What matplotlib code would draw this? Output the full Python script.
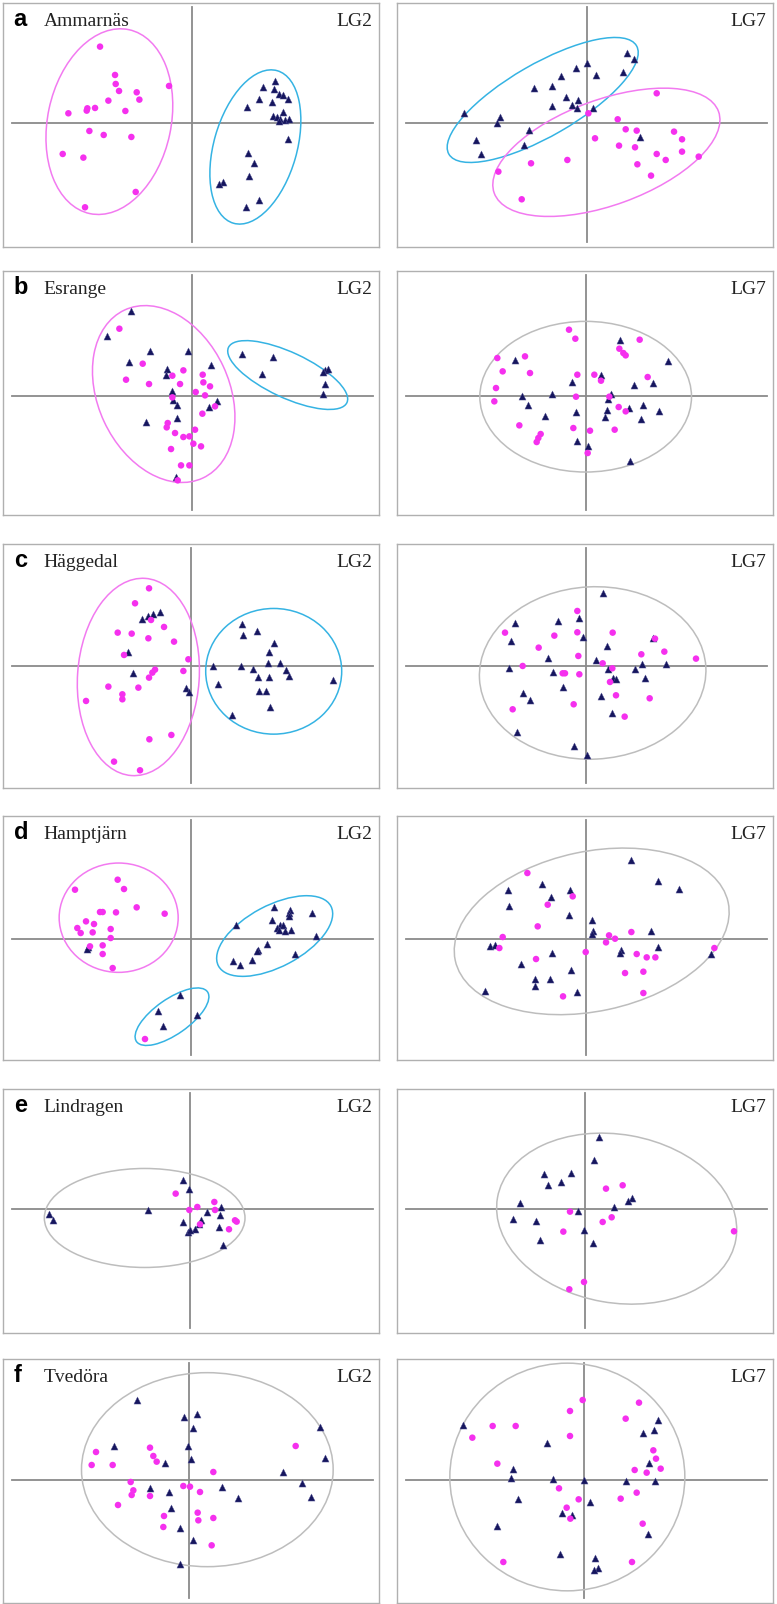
import numpy as np
import matplotlib.pyplot as plt
from matplotlib.patches import Ellipse

PINK = '#f530ee'
NAVY = '#16165e'
RING = {'pink': '#f27af0', 'blue': '#35b3e3', 'grey': '#bdbdbd'}

sites = ['Ammarnäs', 'Esrange', 'Häggedal', 'Hamptjärn', 'Lindragen', 'Tvedöra']
letters = ['a', 'b', 'c', 'd', 'e', 'f']
groups = ['LG2', 'LG7']

# PCA scores: circ = magenta circles, tri = navy triangles
a_lg2_circ = [[-27.5, 23.0], [-23.0, 14.5], [-22.8, 11.8], [-21.8, 9.7], [-6.8, 11.2], [-16.5, 9.3],
              [-15.7, 7.1], [-25.0, 6.8], [-29.0, 4.6], [-31.3, 4.5], [-31.5, 3.8], [-37.0, 3.0],
              [-19.9, 3.7], [-30.7, -2.3], [-26.4, -3.5], [-18.1, -4.1], [-38.7, -9.2], [-32.5, -10.3],
              [-16.8, -20.6], [-32.0, -25.2]]
a_lg2_tri = [[25.1, 12.6], [21.3, 10.8], [24.7, 10.4], [26.3, 8.8], [27.3, 8.5], [28.9, 7.3],
             [20.1, 7.4], [24.1, 6.4], [16.5, 5.0], [27.3, 3.5], [24.5, 2.3], [25.5, 2.0],
             [26.5, 1.2], [28.0, 1.0], [29.3, 1.2], [26.1, 0.8], [28.9, -4.8], [16.8, -8.8],
             [18.7, -11.8], [17.1, -15.8], [9.5, -17.7], [8.2, -18.3], [20.1, -23.0], [16.4, -25.2]]
a_lg7_circ = [[21.0, 9.0], [0.5, 3.0], [9.3, 1.2], [11.7, -1.8], [15.0, -2.2], [26.2, -2.5],
              [28.6, -4.8], [2.5, -4.5], [9.7, -6.7], [14.5, -7.2], [28.6, -8.5], [21.0, -9.2],
              [33.6, -10.0], [23.7, -11.0], [-5.8, -11.0], [-16.7, -12.0], [15.2, -12.3],
              [-26.5, -14.5], [19.3, -15.7], [-19.5, -22.8]]
a_lg7_tri = [[12.0, 21.0], [14.3, 19.3], [0.0, 18.0], [-3.2, 16.5], [2.8, 14.5], [11.0, 15.3],
             [-7.7, 14.2], [-10.3, 11.3], [-15.7, 10.5], [-6.2, 7.8], [-2.5, 7.0], [-10.5, 5.3],
             [-4.5, 5.5], [-2.8, 4.7], [2.0, 4.7], [-36.8, 3.0], [-26.0, 1.8], [-26.8, 0.2],
             [-17.2, -2.0], [16.0, -4.0], [-33.2, -5.0], [-18.8, -6.5], [-31.8, -9.3]]

b_lg2_circ = [[-21.7, 20.1], [-14.7, 9.6], [-19.7, 4.8], [-12.8, 3.5], [-2.5, 7.6], [-5.8, 6.0],
              [-3.5, 3.5], [3.3, 6.3], [3.5, 4.0], [5.5, 2.8], [1.2, 1.1], [4.0, 0.1], [-5.8, -0.5],
              [7.0, -3.2], [3.2, -5.4], [-7.2, -8.2], [-7.5, -9.5], [-5.0, -11.2], [1.0, -10.2],
              [-2.5, -12.4], [-0.7, -12.2], [0.5, -14.4], [2.8, -15.2], [-6.2, -16.0],
              [-3.2, -20.9], [-0.7, -20.9], [-4.2, -25.4]]
b_lg2_tri = [[-18.2, 25.5], [-25.3, 17.8], [-12.5, 13.3], [-1.0, 13.3], [-18.8, 10.0], [5.8, 9.3],
             [-7.3, 8.1], [-7.8, 6.1], [-6.0, 1.5], [-5.5, -1.2], [-4.5, -2.7], [7.7, -1.5],
             [5.2, -3.5], [-4.3, -6.7], [-13.8, -8.0], [-4.7, -24.4], [15.1, 12.5], [24.5, 11.5],
             [21.0, 6.5], [40.0, 7.8], [41.0, 8.0], [39.5, 7.1], [40.0, 3.5], [39.5, 0.5]]
b_lg7_circ = [[-5.1, 19.8], [-3.2, 17.1], [16.1, 16.8], [10.0, 14.1], [11.2, 12.8], [11.9, 12.1],
              [-26.6, 11.3], [-18.3, 11.8], [-25.0, 7.3], [-16.8, 6.8], [-2.6, 6.3], [2.5, 6.3],
              [4.5, 4.5], [18.5, 5.6], [-27.0, 2.3], [-3.0, -0.3], [7.0, -0.3], [-27.5, -1.7],
              [9.8, -3.4], [11.9, -4.7], [-20.0, -8.9], [-3.8, -9.7], [1.2, -10.5], [8.6, -10.2],
              [-13.6, -11.5], [-14.3, -12.7], [-14.8, -13.9], [0.5, -17.2]]
b_lg7_tri = [[10.2, 16.8], [-21.2, 10.6], [24.6, 10.5], [4.5, 6.3], [-4.1, 4.1], [14.4, 3.1],
             [20.2, 3.7], [-19.1, -0.2], [-10.2, 0.5], [7.4, 0.5], [6.7, -1.0], [-17.3, -2.7],
             [12.8, -3.7], [17.0, -2.7], [6.2, -4.2], [-3.0, -4.9], [-12.2, -6.0], [21.9, -4.7],
             [5.7, -6.5], [16.5, -6.9], [-2.6, -13.7], [0.5, -15.2], [13.3, -19.5]]

c_lg2_circ = [[-12.5, 23.4], [-16.7, 18.9], [-11.9, 13.9], [-8.0, 11.8], [-21.9, 10.1], [-17.7, 9.8],
              [-12.7, 8.4], [-5.0, 7.4], [-20.0, 3.4], [-0.7, 2.1], [-10.7, -1.0], [-11.5, -1.9],
              [-12.5, -3.4], [-2.2, -1.4], [-24.7, -6.1], [-15.7, -6.4], [-20.5, -8.4],
              [-20.5, -9.9], [-31.4, -10.4], [-12.4, -21.9], [-5.8, -20.6], [-23.0, -28.6],
              [-15.2, -31.2]]
c_lg2_tri = [[-9.2, 16.4], [-11.2, 15.8], [-12.7, 15.1], [-14.5, 14.1], [15.5, 12.6], [15.8, 9.4],
             [19.9, 10.6], [25.0, 6.9], [23.6, 4.4], [-18.7, 4.4], [15.0, 0.0], [6.8, 0.0],
             [23.1, 0.9], [26.8, 0.9], [18.6, -0.7], [28.5, -1.0], [29.4, -2.9], [-17.2, -2.1],
             [20.3, -3.2], [23.4, -3.2], [8.3, -5.4], [42.6, -4.2], [-1.5, -6.4], [-0.5, -7.6],
             [20.6, -7.4], [22.6, -7.4], [23.8, -12.1], [12.5, -14.5]]
c_lg7_circ = [[-2.6, 16.6], [-24.3, 10.1], [-9.5, 9.2], [-2.6, 10.2], [8.0, 10.1], [20.7, 8.3],
              [-14.2, 5.6], [23.5, 4.4], [16.6, 3.6], [33.0, 2.3], [-2.3, 3.1], [-19.0, 0.1],
              [5.0, 0.9], [7.9, -0.6], [-7.0, -2.1], [-6.3, -2.1], [-2.0, -2.4], [7.2, -4.7],
              [9.0, -8.7], [19.1, -9.6], [-3.7, -11.4], [-22.0, -12.9], [11.6, -15.1]]
c_lg7_tri = [[5.2, 22.1], [-21.4, 13.1], [-8.5, 13.6], [-2.2, 14.4], [-22.6, 7.6], [-0.8, 8.9],
             [6.4, 6.2], [20.2, 8.4], [-11.4, 2.4], [3.0, 1.9], [16.9, 0.6], [24.0, 0.8],
             [-23.0, -0.6], [-10.0, -1.6], [6.7, -0.9], [14.7, -0.9], [8.2, -3.4], [8.9, -3.9],
             [17.7, -3.4], [-6.8, -6.1], [-19.0, -7.9], [-16.8, -10.1], [4.4, -8.9], [7.7, -13.9],
             [-20.6, -19.6], [-3.5, -23.9], [0.3, -26.5]]

d_lg2_circ = [[-22.0, 17.7], [-20.1, 14.9], [-34.8, 14.7], [-16.3, 9.4], [-7.9, 7.5], [-27.3, 8.0],
              [-26.5, 8.0], [-22.5, 7.9], [-31.5, 5.2], [-29.1, 4.4], [-34.1, 3.2], [-33.1, 1.7],
              [-29.5, 1.9], [-24.1, 2.9], [-24.1, 0.2], [-26.5, -2.0], [-30.3, -2.3],
              [-26.5, -4.6], [-23.5, -8.8], [-13.8, -30.1]]
d_lg2_tri = [[24.9, 9.5], [29.8, 8.7], [29.5, 7.7], [36.3, 7.7], [29.3, 6.7], [13.5, 4.2],
             [24.2, 5.5], [26.7, 4.2], [27.5, 4.0], [25.9, 3.2], [26.5, 2.7], [28.2, 2.2],
             [30.0, 2.5], [37.5, 0.9], [22.7, -1.6], [20.2, -3.3], [19.9, -3.8], [31.3, -4.5],
             [18.4, -6.5], [12.7, -6.8], [14.7, -8.0], [-30.8, -2.5], [-31.1, -3.1],
             [-3.3, -17.0], [-9.8, -21.7], [1.9, -23.0], [-8.5, -26.1]]
d_lg7_circ = [[-17.5, 19.7], [-3.9, 12.7], [-11.4, 10.2], [-14.4, 3.7], [-24.9, 0.5], [-25.9, -2.8],
              [7.0, 1.0], [8.8, 0.0], [6.1, -1.1], [13.7, 2.0], [0.0, -4.0], [15.3, -4.6],
              [18.3, -5.6], [20.9, -5.6], [38.6, -2.8], [-14.9, -6.1], [11.8, -10.3],
              [17.3, -9.9], [17.3, -16.3], [-6.8, -17.3]]
d_lg7_tri = [[13.5, 23.5], [21.6, 17.4], [28.0, 15.0], [-23.3, 14.5], [-13.2, 16.5], [-4.7, 14.5],
             [-10.3, 12.4], [-23.1, 9.9], [-4.9, 7.0], [1.8, 5.5], [2.3, 2.2], [2.0, 1.5],
             [19.7, 2.2], [-28.7, -2.3], [-27.1, -2.0], [21.8, -2.6], [10.5, -3.3], [10.3, -4.3],
             [-10.2, -4.3], [37.6, -4.6], [-19.5, -7.5], [-4.5, -9.3], [-15.2, -12.1],
             [-10.7, -12.1], [-15.2, -14.3], [-2.5, -16.0], [-30.3, -15.8]]

e_lg2_circ = [[-4.3, 4.7], [2.2, 0.7], [-0.2, -0.2], [7.3, 2.2], [7.5, -0.2], [13.5, -3.3],
              [14.0, -3.7], [11.7, -6.0], [3.0, -4.5]]
e_lg2_tri = [[-2.0, 8.8], [-0.2, 6.0], [-12.5, -0.3], [-42.2, -1.5], [-41.2, -3.2], [5.0, -0.8],
             [9.2, 0.8], [9.0, -1.7], [-2.2, -3.7], [3.4, -3.3], [2.7, -4.3], [1.5, -5.8],
             [-0.5, -6.7], [0.0, -6.2], [8.8, -5.3], [10.0, -10.8]]
e_lg7_circ = [[6.3, 6.2], [11.3, 7.2], [-4.5, -0.7], [8.0, -2.4], [5.3, -3.8], [-6.5, -6.7],
              [44.7, -6.6], [-0.3, -21.8], [-4.7, -24.0]]
e_lg7_tri = [[4.1, 21.8], [2.8, 14.8], [-12.2, 10.5], [-4.3, 10.8], [-11.0, 7.2], [-7.2, 8.2],
             [14.2, 3.5], [12.8, 2.5], [8.8, 0.7], [-19.5, 1.8], [-2.2, -0.5], [-21.7, -2.8],
             [-14.8, -3.4], [-0.2, -6.2], [-13.5, -9.2], [2.5, -10.0]]

f_lg2_circ = [[-27.9, 8.4], [-29.2, 4.5], [-22.9, 4.5], [-11.7, 9.7], [-10.7, 7.2], [-9.7, 5.5],
              [32.0, 10.2], [7.3, 2.4], [-17.5, -0.6], [-16.7, -3.1], [-17.2, -4.5], [-11.7, -4.8],
              [-1.7, -1.8], [0.3, -2.0], [3.3, -3.6], [-21.3, -7.5], [2.6, -9.8], [2.8, -12.1],
              [-7.5, -10.8], [7.3, -11.4], [-7.7, -14.1], [6.8, -19.6]]
f_lg2_tri = [[-15.5, 23.9], [-1.5, 18.9], [2.3, 19.7], [1.3, 15.7], [39.3, 16.0], [-22.4, 10.2],
             [-0.2, 10.2], [-7.2, 5.0], [0.6, 6.2], [40.8, 6.5], [28.3, 2.5], [33.8, -1.0],
             [-11.7, -2.3], [-6.1, -3.6], [10.0, -2.1], [14.8, -5.3], [36.6, -5.1], [-5.5, -8.5],
             [-2.7, -14.3], [1.3, -18.0], [-2.7, -25.1]]
f_lg7_circ = [[-0.4, 24.0], [16.5, 23.2], [-4.2, 20.7], [12.5, 18.4], [-27.4, 16.2], [-20.5, 16.2],
              [-4.2, 13.2], [-33.5, 12.7], [20.8, 8.9], [21.6, 6.4], [-26.0, 4.9], [23.0, 3.4],
              [15.2, 3.0], [18.8, 2.2], [-7.5, -2.5], [15.8, -3.8], [-1.6, -5.8], [11.0, -5.6],
              [-5.2, -8.3], [-4.1, -11.6], [17.6, -13.1], [14.4, -24.6], [-24.2, -24.6]]
f_lg7_tri = [[-36.4, 16.4], [22.1, 17.9], [17.8, 14.2], [21.1, 15.0], [-11.0, 11.2], [19.6, 5.0],
             [-21.2, 3.4], [-22.0, 0.7], [-9.2, 0.2], [0.1, -0.1], [12.6, -0.4], [21.3, -0.3],
             [-19.9, -5.6], [1.8, -6.6], [-6.5, -9.8], [-3.7, -10.5], [-26.2, -13.8],
             [19.3, -16.1], [-7.2, -22.1], [3.3, -23.5], [4.3, -26.3], [3.0, -27.0]]

# group ellipses: centre x, centre y, width, height, angle, colour
a_lg2_ell = [(-24.7, 0.5, 56.4, 37.0, 78, 'pink'), (19.1, -7.1, 47.6, 24.9, 74, 'blue')]
a_lg7_ell = [(-13.2, 7.0, 65.0, 21.6, 30, 'blue'), (5.9, -8.7, 71.6, 31.6, 20, 'pink')]
b_lg2_ell = [(-8.4, 0.5, 55.6, 39.4, 115, 'pink'), (28.8, 6.2, 39.2, 13.6, -25, 'blue')]
b_lg7_ell = [(-0.1, -0.3, 63.5, 45.2, 0, 'grey')]
c_lg2_ell = [(-15.7, -3.2, 59.3, 36.5, 86, 'pink'), (24.9, -1.5, 40.8, 37.7, 0, 'blue')]
c_lg7_ell = [(2.0, -2.0, 68.0, 51.7, 3, 'grey')]
d_lg2_ell = [(-21.7, 6.3, 35.7, 32.8, 0, 'pink'), (25.1, 0.8, 38.2, 18.4, 28, 'blue'),
             (-5.7, -23.4, 26.0, 10.6, 35, 'blue')]
d_lg7_ell = [(1.8, 2.2, 83.7, 47.9, 12, 'grey')]
e_lg2_ell = [(-13.6, -2.6, 60.2, 29.7, 0, 'grey')]
e_lg7_ell = [(9.5, -2.8, 72.6, 50.5, -10, 'grey')]
f_lg2_ell = [(5.5, 3.1, 75.5, 58.2, 0, 'grey')]
f_lg7_ell = [(-5.0, 0.9, 70.5, 68.3, 0, 'grey')]

panels = [
    (a_lg2_circ, a_lg2_tri, a_lg2_ell), (a_lg7_circ, a_lg7_tri, a_lg7_ell),
    (b_lg2_circ, b_lg2_tri, b_lg2_ell), (b_lg7_circ, b_lg7_tri, b_lg7_ell),
    (c_lg2_circ, c_lg2_tri, c_lg2_ell), (c_lg7_circ, c_lg7_tri, c_lg7_ell),
    (d_lg2_circ, d_lg2_tri, d_lg2_ell), (d_lg7_circ, d_lg7_tri, d_lg7_ell),
    (e_lg2_circ, e_lg2_tri, e_lg2_ell), (e_lg7_circ, e_lg7_tri, e_lg7_ell),
    (f_lg2_circ, f_lg2_tri, f_lg2_ell), (f_lg7_circ, f_lg7_tri, f_lg7_ell),
]

# layout in figure pixels
W, H = 777, 1604
col_x = [2.7, 396.7]
row_top = [2.7, 271.3, 543.7, 815.7, 1088.7, 1358.7]
pw, ph = 376.5, 244
# where the zero lines cross, in figure pixels
cross = [(191.7, 123.3), (586.7, 123.3), (191.7, 395.7), (586.0, 395.7),
         (190.7, 666.3), (586.0, 666.3), (191.0, 938.7), (585.7, 938.7),
         (190.0, 1209.3), (585.0, 1209.3), (189.0, 1480.0), (584.0, 1480.0)]
unit = 0.3  # data units per pixel

fig = plt.figure(figsize=(W / 100, H / 100), dpi=100)

for i, (circ, tri, ells) in enumerate(panels):
    r, c = divmod(i, 2)
    x0, top = col_x[c], row_top[r]
    ax = fig.add_axes([x0 / W, 1 - (top + ph) / H, pw / W, ph / H])
    cx, cy = cross[i]
    ax.set_xlim((x0 - cx) * unit, (x0 + pw - cx) * unit)
    ax.set_ylim((cy - top - ph) * unit, (cy - top) * unit)
    ax.set_xticks([])
    ax.set_yticks([])
    for s in ax.spines.values():
        s.set_color('#b0b0b0')
        s.set_linewidth(1.0)

    ax.axhline(0, xmin=0.024, xmax=0.984, color='#8a8a8a', lw=1.3, zorder=1)
    ax.axvline(0, ymin=0.02, ymax=0.984, color='#8a8a8a', lw=1.3, zorder=1)

    for ex, ey, ew, eh, ang, col in ells:
        ax.add_patch(Ellipse((ex, ey), ew, eh, angle=ang, fill=False,
                             edgecolor=RING[col], lw=1.1, zorder=2))

    circ = np.array(circ)
    tri = np.array(tri)
    ax.scatter(tri[:, 0], tri[:, 1], marker='^', s=26, color=NAVY,
               edgecolors='#5a5a9a', linewidths=0.3, zorder=3)
    ax.scatter(circ[:, 0], circ[:, 1], marker='o', s=22, color=PINK,
               edgecolors='none', zorder=4)

    if c == 0:
        ax.annotate(letters[r], xy=(0, 1), xycoords='axes fraction', xytext=(11, -23),
                    textcoords='offset pixels', fontsize=17, fontweight='bold',
                    family='Liberation Sans', va='baseline')
        ax.annotate(sites[r], xy=(0, 1), xycoords='axes fraction', xytext=(41, -23),
                    textcoords='offset pixels', fontsize=14, family='Liberation Serif',
                    color='#222222', va='baseline')
    ax.annotate(groups[c], xy=(1, 1), xycoords='axes fraction', xytext=(-7, -23),
                textcoords='offset pixels', fontsize=14, family='Liberation Serif',
                color='#222222', ha='right', va='baseline')

fig.savefig('out.png', dpi=100)
